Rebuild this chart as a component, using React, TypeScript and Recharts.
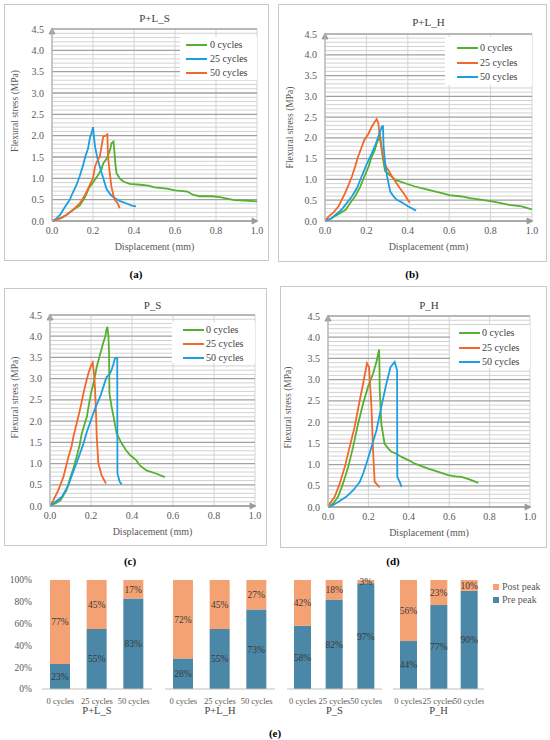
import React from "react";
import {
  LineChart,
  Line,
  XAxis,
  YAxis,
  CartesianGrid,
  ReferenceLine,
  BarChart,
  Bar,
  LabelList,
} from "recharts";

const FONT = '"Liberation Serif", "Times New Roman", Times, serif';
const GREEN = "#55b030";
const ORANGE = "#f2672a";
const BLUE = "#1c9fe2";
const POST = "#f4a274";
const PRE = "#4b87a6";
const TXT = "#595959";

// ---- stress / displacement curves [mm, MPa] ----
const plsCycles0 = [[0,0],[0.02,0.03],[0.05,0.08],[0.07,0.14],[0.1,0.25],[0.135,0.36],[0.16,0.55],[0.18,0.77],[0.2,0.9],[0.22,1.04],[0.24,1.2],[0.25,1.35],[0.265,1.45],[0.275,1.55],[0.285,1.7],[0.29,1.82],[0.3,1.86],[0.305,1.6],[0.31,1.3],[0.315,1.12],[0.33,1.0],[0.35,0.92],[0.38,0.87],[0.43,0.85],[0.47,0.83],[0.5,0.79],[0.56,0.76],[0.6,0.72],[0.64,0.7],[0.66,0.69],[0.69,0.61],[0.72,0.58],[0.78,0.58],[0.82,0.56],[0.86,0.52],[0.89,0.49],[0.94,0.48],[1.0,0.46]];
const plsCycles25 = [[0,0],[0.02,0.05],[0.04,0.15],[0.054,0.26],[0.07,0.38],[0.086,0.49],[0.1,0.65],[0.12,0.85],[0.135,1.05],[0.15,1.28],[0.165,1.55],[0.175,1.68],[0.185,1.95],[0.195,2.1],[0.2,2.2],[0.205,1.95],[0.21,1.75],[0.22,1.5],[0.233,1.28],[0.25,1.0],[0.266,0.75],[0.285,0.62],[0.307,0.53],[0.33,0.47],[0.364,0.41],[0.39,0.36],[0.41,0.34]];
const plsCycles50 = [[0,0],[0.03,0.04],[0.07,0.14],[0.1,0.25],[0.135,0.41],[0.16,0.6],[0.18,0.8],[0.2,1.0],[0.21,1.28],[0.22,1.4],[0.233,1.51],[0.24,1.7],[0.25,1.98],[0.262,2.0],[0.27,2.03],[0.272,1.7],[0.275,1.43],[0.28,1.2],[0.29,0.8],[0.3,0.6],[0.307,0.49],[0.32,0.42],[0.33,0.3]];

const plhCycles0 = [[0,0],[0.03,0.06],[0.06,0.15],[0.1,0.27],[0.12,0.42],[0.145,0.59],[0.17,0.82],[0.19,1.07],[0.21,1.3],[0.226,1.55],[0.24,1.7],[0.25,1.87],[0.26,2.0],[0.265,2.11],[0.27,1.9],[0.28,1.5],[0.29,1.2],[0.31,1.12],[0.34,0.99],[0.38,0.92],[0.435,0.83],[0.5,0.75],[0.565,0.67],[0.6,0.62],[0.66,0.59],[0.7,0.55],[0.76,0.51],[0.82,0.46],[0.89,0.39],[0.95,0.35],[1.0,0.28]];
const plhCycles25 = [[0,0],[0.016,0.1],[0.04,0.2],[0.065,0.35],[0.08,0.5],[0.097,0.67],[0.115,0.88],[0.13,1.07],[0.145,1.3],[0.16,1.55],[0.175,1.75],[0.19,1.95],[0.21,2.1],[0.226,2.27],[0.24,2.38],[0.25,2.45],[0.258,2.35],[0.266,1.95],[0.28,1.55],[0.295,1.3],[0.306,1.23],[0.32,1.1],[0.34,0.95],[0.36,0.8],[0.38,0.67],[0.4,0.51],[0.41,0.44]];
const plhCycles50 = [[0,0],[0.03,0.06],[0.08,0.27],[0.1,0.4],[0.13,0.59],[0.155,0.8],[0.177,1.07],[0.2,1.35],[0.226,1.63],[0.245,1.85],[0.258,2.03],[0.27,2.2],[0.274,2.27],[0.28,2.28],[0.283,1.8],[0.29,1.4],[0.3,1.07],[0.315,0.71],[0.33,0.6],[0.347,0.51],[0.37,0.45],[0.403,0.35],[0.44,0.25]];

const psCycles0 = [[0,0],[0.03,0.07],[0.05,0.13],[0.08,0.37],[0.1,0.68],[0.115,0.9],[0.13,1.16],[0.145,1.45],[0.155,1.71],[0.17,1.95],[0.18,2.1],[0.19,2.4],[0.2,2.65],[0.215,2.95],[0.228,3.28],[0.24,3.5],[0.25,3.67],[0.26,3.85],[0.27,3.99],[0.275,4.15],[0.28,4.22],[0.285,4.0],[0.288,3.6],[0.29,2.65],[0.3,2.35],[0.31,2.1],[0.325,1.71],[0.35,1.47],[0.37,1.32],[0.39,1.2],[0.42,1.08],[0.44,0.95],[0.47,0.84],[0.52,0.76],[0.56,0.68]];
const psCycles25 = [[0,0],[0.016,0.13],[0.04,0.37],[0.065,0.68],[0.09,1.16],[0.105,1.4],[0.114,1.63],[0.138,2.1],[0.15,2.35],[0.163,2.65],[0.175,2.9],[0.187,3.12],[0.2,3.3],[0.208,3.38],[0.215,3.1],[0.22,2.73],[0.225,2.1],[0.228,1.63],[0.236,1.0],[0.252,0.72],[0.273,0.53]];
const psCycles50 = [[0,0],[0.024,0.09],[0.057,0.21],[0.09,0.49],[0.105,0.7],[0.122,0.92],[0.14,1.15],[0.163,1.47],[0.18,1.75],[0.2,2.02],[0.22,2.3],[0.244,2.57],[0.26,2.8],[0.276,3.04],[0.29,3.1],[0.3,3.2],[0.31,3.35],[0.317,3.48],[0.328,3.49],[0.329,0.76],[0.34,0.57],[0.35,0.51]];

const phCycles0 = [[0,0],[0.025,0.08],[0.05,0.24],[0.074,0.55],[0.1,0.94],[0.124,1.41],[0.149,1.96],[0.174,2.44],[0.198,2.83],[0.223,3.14],[0.24,3.42],[0.248,3.6],[0.253,3.71],[0.255,3.2],[0.256,2.75],[0.264,1.96],[0.28,1.49],[0.3,1.37],[0.314,1.3],[0.34,1.25],[0.364,1.18],[0.4,1.1],[0.43,1.02],[0.47,0.95],[0.5,0.9],[0.55,0.82],[0.595,0.75],[0.63,0.72],[0.66,0.71],[0.7,0.65],[0.744,0.57]];
const phCycles25 = [[0,0],[0.008,0.08],[0.033,0.24],[0.058,0.55],[0.083,0.94],[0.107,1.41],[0.132,1.89],[0.157,2.51],[0.174,2.91],[0.185,3.18],[0.193,3.39],[0.203,3.3],[0.215,2.36],[0.223,1.34],[0.231,0.59],[0.256,0.46]];
const phCycles50 = [[0,0],[0.016,0.02],[0.05,0.12],[0.09,0.24],[0.124,0.39],[0.157,0.59],[0.175,0.8],[0.19,1.02],[0.215,1.41],[0.24,1.81],[0.264,2.36],[0.289,2.91],[0.31,3.3],[0.33,3.42],[0.342,3.22],[0.343,0.71],[0.355,0.59],[0.364,0.47]];

const xTicks = [0, 0.2, 0.4, 0.6, 0.8, 1.0];
const yTicks = [0, 0.5, 1.0, 1.5, 2.0, 2.5, 3.0, 3.5, 4.0, 4.5];
const yMinorTicks = [0.1,0.2,0.3,0.4,0.6,0.7,0.8,0.9,1.1,1.2,1.3,1.4,1.6,1.7,1.8,1.9,2.1,2.2,2.3,2.4,2.6,2.7,2.8,2.9,3.1,3.2,3.3,3.4,3.6,3.7,3.8,3.9,4.1,4.2,4.3,4.4];
const Y_MAX = 4.5;

// ---- pre / post peak share (%) ----
const cycleLabels = ["0 cycles", "25 cycles", "50 cycles"];
const prePeakPLS = [23, 55, 83];
const postPeakPLS = [77, 45, 17];
const prePeakPLH = [28, 55, 73];
const postPeakPLH = [72, 45, 27];
const prePeakPS = [58, 82, 97];
const postPeakPS = [42, 18, 3];
const prePeakPH = [44, 77, 90];
const postPeakPH = [56, 23, 10];
const pctTicks = [0, 20, 40, 60, 80, 100];

type Pt = number[];
type Series = { name: string; color: string; points: Pt[] };

const toPts = (arr: Pt[]) => arr.map(([x, y]) => ({ x, y }));

function ArrowUp(props: any) {
  const vb = props.viewBox || {};
  const x = vb.x ?? 0;
  const y = vb.y ?? 0;
  return <path d={`M${x - 3},${y + 5} L${x},${y - 1} L${x + 3},${y + 5} Z`} fill="#9a9a9a" stroke="#9a9a9a" strokeWidth={0.8} />;
}

function ArrowRight(props: any) {
  const vb = props.viewBox || {};
  const x = (vb.x ?? 0) + (vb.width ?? 0);
  const y = vb.y ?? 0;
  return <path d={`M${x - 5},${y - 3} L${x + 1},${y} L${x - 5},${y + 3} Z`} fill="#9a9a9a" stroke="#9a9a9a" strokeWidth={0.8} />;
}

type PanelProps = {
  box: { left: number; top: number; width: number; height: number };
  plot: { left: number; top: number; right: number; bottom: number };
  title: string;
  titleY: number;
  yLabelX: number;
  yLabelDy: number;
  legend: { left: number; top: number; width: number; height: number; row0: number; step: number; sx: number; tx: number };
  series: Series[];
  tag: string;
  tagX: number;
  tagY: number;
};

function StressPanel({ box, plot, title, titleY, yLabelX, yLabelDy, legend, series, tag, tagX, tagY }: PanelProps) {
  const xAxisH = 30;
  const yLabel = (p: any) => {
    const vb = p && p.viewBox && p.viewBox.height ? p.viewBox : { y: plot.top, height: box.height - plot.top - plot.bottom };
    const cy = vb.y + vb.height / 2 + yLabelDy;
    return (
      <text x={yLabelX} y={cy} transform={`rotate(-90 ${yLabelX} ${cy})`} textAnchor="middle" dominantBaseline="central" fontSize={9.5} fill={TXT} fontFamily={FONT}>
        Flexural stress (MPa)
      </text>
    );
  };
  return (
    <>
      <div style={{ position: "absolute", left: box.left, top: box.top, width: box.width, height: box.height, border: "1px solid #c8c8c8", boxSizing: "border-box" }} />
      <div style={{ position: "absolute", left: box.left, top: box.top }}>
        <LineChart width={box.width} height={box.height} margin={{ top: plot.top, right: plot.right, bottom: plot.bottom - xAxisH, left: 0 }}>
          <CartesianGrid horizontal={false} stroke="#d4d4d4" />
          {yMinorTicks.map((v) => (
            <ReferenceLine key={`m${v}`} y={v} stroke="#d2d2d2" strokeWidth={1} />
          ))}
          <CartesianGrid vertical={false} stroke="#a0a0a0" strokeWidth={1.3} />
          <XAxis
            type="number"
            dataKey="x"
            domain={[0, 1]}
            ticks={xTicks}
            allowDataOverflow
            tickFormatter={(v: number) => v.toFixed(1)}
            axisLine={{ stroke: "#9a9a9a" }}
            tickLine={false}
            tickMargin={0}
            height={xAxisH}
            tick={{ fontSize: 10, fill: TXT, fontFamily: FONT }}
            label={{ value: "Displacement (mm)", position: "insideBottom", offset: 1, fontSize: 10, fill: TXT, fontFamily: FONT }}
          />
          <YAxis
            type="number"
            domain={[0, Y_MAX]}
            ticks={yTicks}
            interval={0}
            tickFormatter={(v: number) => v.toFixed(1)}
            axisLine={{ stroke: "#b5b5b5", strokeWidth: 1.3 }}
            tickLine={false}
            width={plot.left}
            tick={{ fontSize: 10, fill: TXT, fontFamily: FONT }}
            label={{ content: yLabel }}
          />
          {series.map((s) => (
            <Line
              key={s.name}
              name={s.name}
              data={toPts(s.points)}
              dataKey="y"
              type="linear"
              stroke={s.color}
              strokeWidth={1.8}
              dot={false}
              activeDot={false}
              isAnimationActive={false}
            />
          ))}
          <ReferenceLine x={0} strokeOpacity={0} label={<ArrowUp />} />
          <ReferenceLine y={0} strokeOpacity={0} label={<ArrowRight />} />
        </LineChart>
        <div
          style={{
            position: "absolute",
            left: plot.left,
            width: box.width - plot.left - plot.right,
            top: titleY - 7,
            lineHeight: "14px",
            textAlign: "center",
            fontSize: 11,
            color: "#404040",
            fontFamily: FONT,
          }}
        >
          {title}
        </div>
        <div style={{ position: "absolute", left: legend.left, top: legend.top, width: legend.width, height: legend.height, background: "#fff" }}>
          {series.map((s, i) => (
            <div key={s.name} style={{ position: "absolute", left: 0, top: legend.row0 + i * legend.step - 7, height: 14, width: legend.width }}>
              <div style={{ position: "absolute", left: legend.sx, top: 6, width: 21, height: 2, background: s.color }} />
              <div style={{ position: "absolute", left: legend.tx, top: 0, lineHeight: "14px", fontSize: 10, color: "#404040", fontFamily: FONT, whiteSpace: "nowrap" }}>
                {s.name}
              </div>
            </div>
          ))}
        </div>
      </div>
      <div style={{ position: "absolute", left: tagX - 20, width: 40, top: tagY - 7, lineHeight: "14px", textAlign: "center", fontSize: 11, fontWeight: "bold", fontFamily: FONT }}>
        {tag}
      </div>
    </>
  );
}

function PeakGroup({ left, width, name, pre, post, showAxis, barSize }: { left: number; width: number; name: string; pre: number[]; post: number[]; showAxis: boolean; barSize: number }) {
  const axisW = 42;
  const data = cycleLabels.map((c, i) => ({ cat: c, pre: pre[i], post: post[i] }));
  const pct = (v: any) => `${v}%`;
  return (
    <div style={{ position: "absolute", left: showAxis ? left - axisW : left, top: 570 }}>
      <BarChart width={width + (showAxis ? axisW : 0)} height={150} data={data} margin={{ top: 10, right: 0, bottom: 5, left: 0 }}>
        <XAxis
          dataKey="cat"
          interval={0}
          tickLine={false}
          axisLine={{ stroke: "#bfbfbf" }}
          tickMargin={3}
          height={26}
          tick={{ fontSize: 8.5, fill: TXT, fontFamily: FONT }}
          label={{ value: name, position: "insideBottom", offset: 1, fontSize: 10.5, fill: "#404040", fontFamily: FONT }}
        />
        <YAxis
          domain={[0, 100]}
          ticks={pctTicks}
          interval={0}
          hide={!showAxis}
          width={axisW}
          axisLine={false}
          tickLine={false}
          tickMargin={4}
          tickFormatter={pct}
          tick={{ fontSize: 9.5, fill: TXT, fontFamily: FONT }}
        />
        <Bar dataKey="pre" name="Pre peak" stackId="s" fill={PRE} barSize={barSize} isAnimationActive={false}>
          <LabelList dataKey="pre" position="center" formatter={pct} fill="#3a3a3a" fontSize={9.5} fontFamily={FONT} />
        </Bar>
        <Bar dataKey="post" name="Post peak" stackId="s" fill={POST} barSize={barSize} isAnimationActive={false}>
          <LabelList dataKey="post" position="center" formatter={pct} fill="#3a3a3a" fontSize={9.5} fontFamily={FONT} />
        </Bar>
      </BarChart>
    </div>
  );
}

export default function App() {
  return (
    <div style={{ position: "absolute", left: 0, top: 0, width: 550, height: 740, background: "#fff", fontFamily: FONT, overflow: "hidden" }}>
      <StressPanel
        box={{ left: 4, top: 4, width: 265, height: 257 }}
        plot={{ left: 48, top: 25, right: 12, bottom: 40 }}
        title="P+L_S"
        titleY={14}
        yLabelX={11}
        yLabelDy={-14}
        legend={{ left: 176, top: 33, width: 77, height: 43, row0: 8, step: 14, sx: 6, tx: 30 }}
        series={[
          { name: "0 cycles", color: GREEN, points: plsCycles0 },
          { name: "25 cycles", color: BLUE, points: plsCycles25 },
          { name: "50 cycles", color: ORANGE, points: plsCycles50 },
        ]}
        tag="(a)"
        tagX={136}
        tagY={274}
      />
      <StressPanel
        box={{ left: 278, top: 4, width: 269, height: 258 }}
        plot={{ left: 47, top: 30, right: 15, bottom: 41 }}
        title="P+L_H"
        titleY={18}
        yLabelX={12}
        yLabelDy={0}
        legend={{ left: 167, top: 33, width: 87, height: 48, row0: 11, step: 14.5, sx: 12, tx: 35 }}
        series={[
          { name: "0 cycles", color: GREEN, points: plhCycles0 },
          { name: "25 cycles", color: ORANGE, points: plhCycles25 },
          { name: "50 cycles", color: BLUE, points: plhCycles50 },
        ]}
        tag="(b)"
        tagX={412}
        tagY={274}
      />
      <StressPanel
        box={{ left: 4, top: 288, width: 263, height: 258 }}
        plot={{ left: 46, top: 27, right: 12, bottom: 40 }}
        title="P_S"
        titleY={17}
        yLabelX={11}
        yLabelDy={-13}
        legend={{ left: 168, top: 34, width: 83, height: 41, row0: 8, step: 14, sx: 11, tx: 34 }}
        series={[
          { name: "0 cycles", color: GREEN, points: psCycles0 },
          { name: "25 cycles", color: ORANGE, points: psCycles25 },
          { name: "50 cycles", color: BLUE, points: psCycles50 },
        ]}
        tag="(c)"
        tagX={130}
        tagY={561}
      />
      <StressPanel
        box={{ left: 280, top: 286, width: 267, height: 262 }}
        plot={{ left: 48, top: 30, right: 17, bottom: 41 }}
        title="P_H"
        titleY={19}
        yLabelX={8}
        yLabelDy={-4}
        legend={{ left: 170, top: 39, width: 80, height: 43, row0: 8, step: 14.5, sx: 9, tx: 32 }}
        series={[
          { name: "0 cycles", color: GREEN, points: phCycles0 },
          { name: "25 cycles", color: ORANGE, points: phCycles25 },
          { name: "50 cycles", color: BLUE, points: phCycles50 },
        ]}
        tag="(d)"
        tagX={393}
        tagY={561}
      />

      <PeakGroup left={42} width={110} name="P+L_S" pre={prePeakPLS} post={postPeakPLS} showAxis barSize={20} />
      <PeakGroup left={165} width={110} name="P+L_H" pre={prePeakPLH} post={postPeakPLH} showAxis={false} barSize={20} />
      <PeakGroup left={287} width={95} name="P_S" pre={prePeakPS} post={postPeakPS} showAxis={false} barSize={17} />
      <PeakGroup left={393} width={91} name="P_H" pre={prePeakPH} post={postPeakPH} showAxis={false} barSize={17} />

      <div style={{ position: "absolute", left: 493, top: 580, fontFamily: FONT, fontSize: 10, color: TXT }}>
        {[{ n: "Post peak", c: POST }, { n: "Pre peak", c: PRE }].map((it, i) => (
          <div key={it.n} style={{ position: "absolute", left: 0, top: i * 13, height: 14, whiteSpace: "nowrap" }}>
            <div style={{ position: "absolute", left: 0, top: 4, width: 6, height: 6, background: it.c }} />
            <div style={{ position: "absolute", left: 9, top: 0, lineHeight: "14px" }}>{it.n}</div>
          </div>
        ))}
      </div>
      <div style={{ position: "absolute", left: 255, width: 40, top: 726, lineHeight: "14px", textAlign: "center", fontSize: 11, fontWeight: "bold", fontFamily: FONT }}>
        (e)
      </div>
    </div>
  );
}
